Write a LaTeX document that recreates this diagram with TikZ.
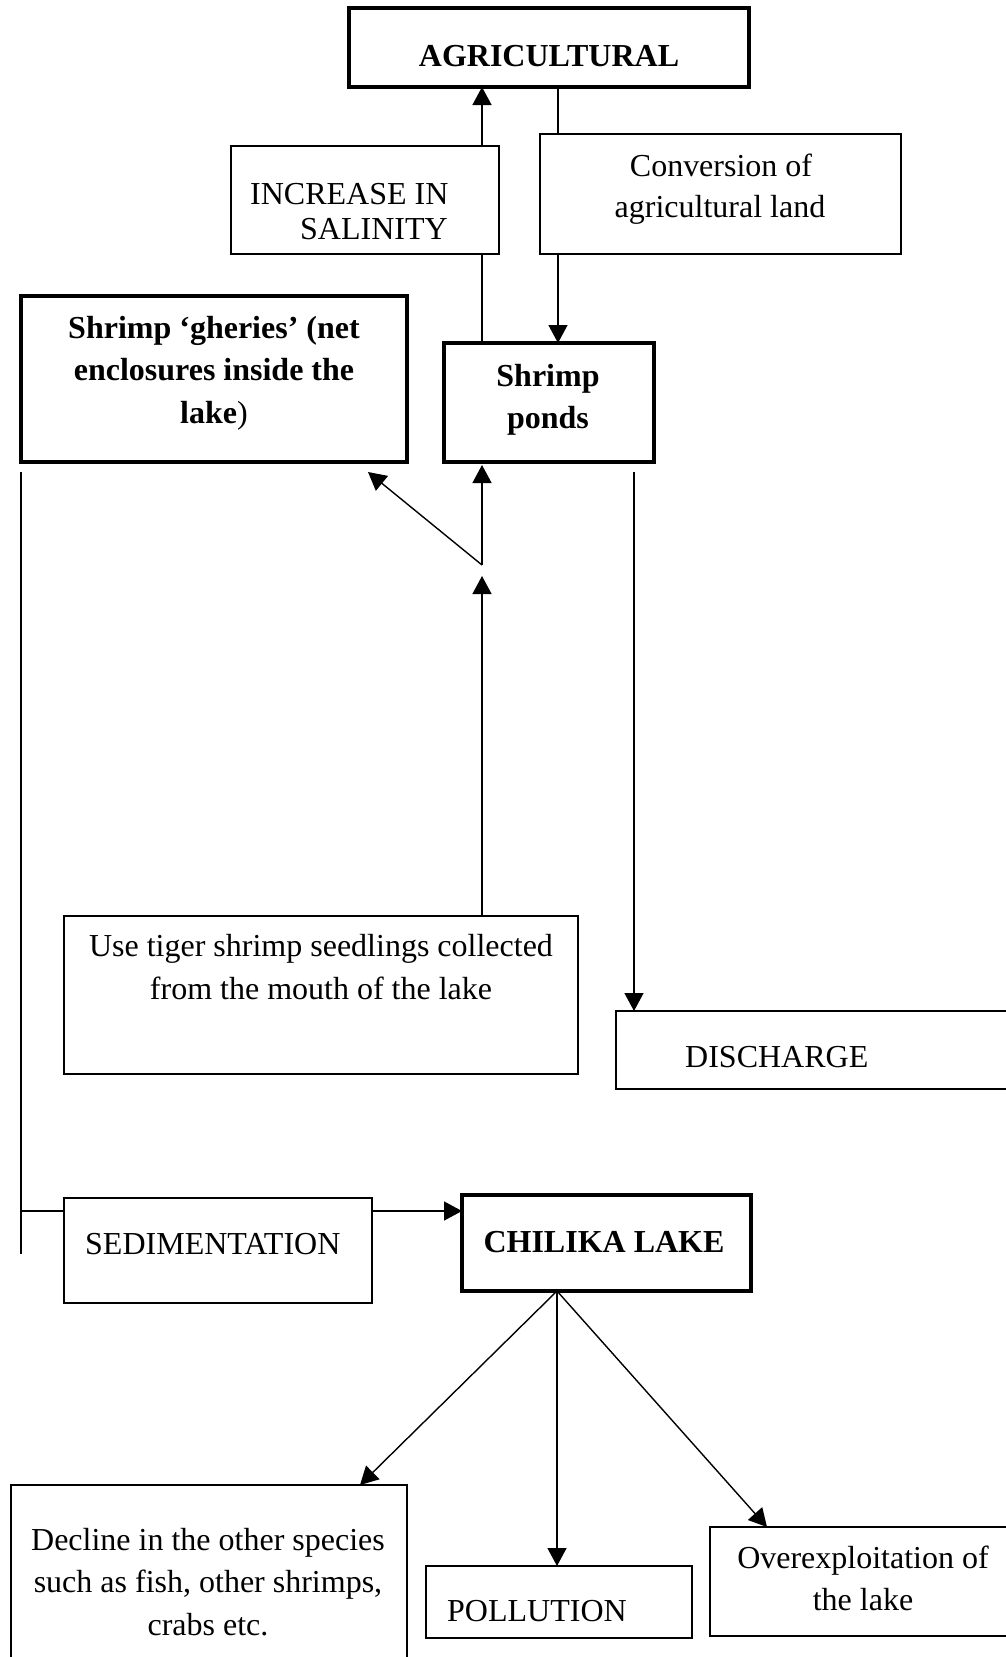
\documentclass[tikz,border=0pt]{standalone}
\usepackage{fontspec}
\setmainfont{Liberation Serif}
\usetikzlibrary{arrows.meta}
\begin{document}
\begin{tikzpicture}[x=1pt,y=-1pt,
  thinbox/.style={draw,line width=1.4pt,inner sep=0pt,outer sep=0pt,rectangle},
  thickbox/.style={draw,line width=3.6pt,inner sep=0pt,outer sep=0pt,rectangle},
  txt/.style={inner sep=0pt,anchor=base,font=\fontsize{32}{41}\selectfont},
  btxt/.style={inner sep=0pt,anchor=base,font=\fontsize{32}{41}\selectfont\bfseries},
  conn/.style={line width=1.4pt},
  arr/.style={line width=1.4pt,-{Triangle[width=19pt,length=18pt]}}]
\useasboundingbox (0,0) rectangle (1006,1657);
\clip (0,0) rectangle (1006,1657);
% boxes
\node[thickbox,minimum width=400pt,minimum height=79pt] (agri) at (549,47.5) {};
\node[thinbox,minimum width=268pt,minimum height=108pt] (incr) at (365,200) {};
\node[thinbox,minimum width=361pt,minimum height=120pt] (conv) at (720.5,194) {};
\node[thickbox,minimum width=386pt,minimum height=166pt] (gher) at (214,379) {};
\node[thickbox,minimum width=210pt,minimum height=119pt] (ponds) at (549,402.5) {};
\node[thinbox,minimum width=514pt,minimum height=158pt] (tiger) at (321,995) {};
\node[thinbox,minimum width=414pt,minimum height=78pt] (disch) at (823,1050) {};
\node[thinbox,minimum width=308pt,minimum height=105pt] (sedim) at (218,1250.5) {};
\node[thickbox,minimum width=289pt,minimum height=96pt] (chil) at (606.5,1243) {};
\node[thinbox,minimum width=396pt,minimum height=195pt] (decl) at (209,1582.5) {};
\node[thinbox,minimum width=266pt,minimum height=72pt] (poll) at (559,1602) {};
\node[thinbox,minimum width=320pt,minimum height=109pt] (overx) at (870,1581.5) {};
% texts
\node[btxt] (tagri) at (549,66) {AGRICULTURAL};
\node[txt,anchor=base west] (tincr1) at (250,204) {INCREASE IN};
\node[txt,anchor=base west] (tincr2) at (300,239) {SALINITY};
\node[txt] (tconv1) at (721,176) {Conversion of};
\node[txt] (tconv2) at (720,217) {agricultural land};
\node[btxt] (tgher1) at (214,338) {Shrimp ‘gheries’ (net};
\node[btxt] (tgher2) at (214,380) {enclosures inside the};
\node[txt] (tgher3) at (214,423) {\textbf{lake})};
\node[btxt] (tponds1) at (548,386) {Shrimp};
\node[btxt] (tponds2) at (548,428) {ponds};
\node[txt] (ttiger1) at (321,956) {Use tiger shrimp seedlings collected};
\node[txt] (ttiger2) at (321,999) {from the mouth of the lake};
\node[txt,anchor=base west] (tdisch) at (685,1067) {DISCHARGE};
\node[txt,anchor=base west] (tsedim) at (85,1254) {SEDIMENTATION};
\node[btxt] (tchil) at (604,1252) {CHILIKA LAKE};
\node[txt] (tdecl1) at (208,1550) {Decline in the other species};
\node[txt] (tdecl2) at (208,1592) {such as fish, other shrimps,};
\node[txt] (tdecl3) at (208,1635) {crabs etc.};
\node[txt,anchor=base west] (tpoll) at (447,1621) {POLLUTION};
\node[txt] (tover1) at (863,1568) {Overexploitation of};
\node[txt] (tover2) at (863,1610) {the lake};
% helper coordinates
\coordinate (colA) at (482,0);
\coordinate (colB) at (558,0);
\coordinate (colC) at (634,0);
\coordinate (colL) at (21,0);
\coordinate (rowS) at (0,1211);
\coordinate (fork) at (482,565);
\coordinate (forkin) at (482,576);
\coordinate (gtip) at (368,472);
\coordinate (pondsout) at (634,472);
\coordinate (gherout) at (21,472);
\coordinate (leftend) at (21,1254);
\coordinate (chout) at (557,0);
% connectors
\draw[conn] (ponds.north -| colA) -- (incr.south -| colA);
\draw[arr] (incr.north -| colA) -- (agri.south -| colA);
\draw[conn] (agri.south -| colB) -- (conv.north -| colB);
\draw[arr] (conv.south -| colB) -- (ponds.north -| colB);
\draw[arr,shorten >=3pt] (fork) -- (ponds.south -| colA);
\draw[arr] (fork) -- (gtip);
\draw[arr] (tiger.north -| colA) -- (forkin);
\draw[arr] (pondsout) -- (disch.north -| colC);
\draw[conn] (gherout) -- (leftend);
\draw[conn] (rowS -| colL) -- (rowS -| sedim.west);
\draw[arr] (rowS -| sedim.east) -- (rowS -| chil.west);
\draw[arr] (chil.south -| chout) -- (decl.north -| 360,0);
\draw[arr] (chil.south -| chout) -- (poll.north -| chout);
\draw[arr] (chil.south -| chout) -- (overx.north -| 767,0);
\end{tikzpicture}
\end{document}
